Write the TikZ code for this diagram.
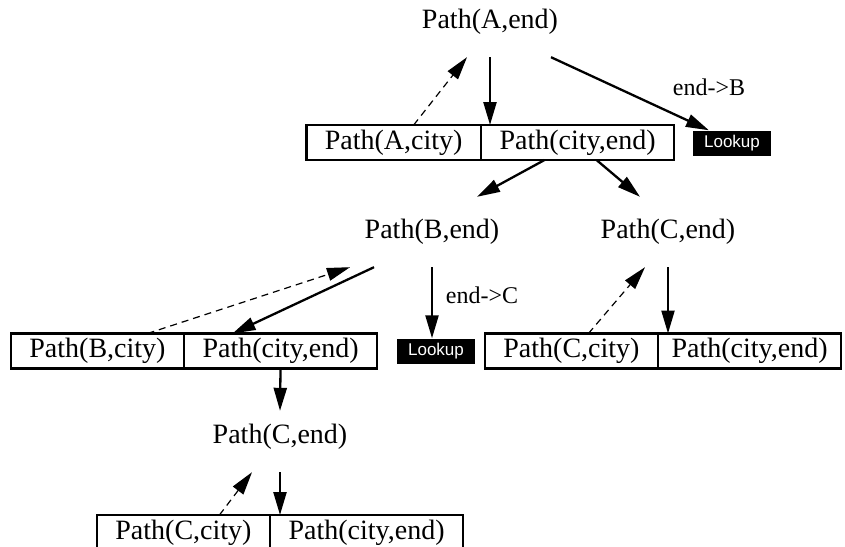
\documentclass[tikz,border=0pt]{standalone}
\usepackage{fontspec}
\setmainfont{Liberation Serif}
\newfontfamily\lookupfont{Liberation Sans}
\usetikzlibrary{arrows.meta}

\begin{document}
\begin{tikzpicture}[x=1pt,y=-1pt,
  goal/.style={inner sep=0pt,minimum height=70pt,font=\fontsize{28}{30}\selectfont},
  cell/.style={draw,line width=2.3pt,inner xsep=18.5pt,inner ysep=0pt,minimum height=35pt,outer sep=0pt,font=\fontsize{28}{30}\selectfont},
  lookup/.style={fill=black,text=white,inner xsep=11pt,inner ysep=0pt,minimum height=25pt,font=\lookupfont\fontsize{17}{18}\selectfont},
  edgelabel/.style={font=\fontsize{24}{26}\selectfont},
  call/.style={line width=2.3pt,-{Triangle[length=23pt,width=13pt]}},
  back/.style={line width=1.2pt,dash pattern=on 7pt off 5pt,-{Triangle[length=23pt,width=13pt]}}]
			\useasboundingbox (0,0) rectangle (845,546);
			\clip (0,0) rectangle (845,546);
			% top goal and its split
			\node[goal] (Aend) at (490,22) {Path(A,end)};
			\node[cell,anchor=east] (Acity) at (481,142.5) {Path(A,city)};
			\node[cell,anchor=west] (Acityend) at (Acity.east) {Path(city,end)};
			\node[lookup] (look1) at (732,143) {Lookup};
			\node[edgelabel] (toB) at (709,87) {end->B};
			% second level
			\node[goal] (Bend) at (432,232) {Path(B,end)};
			\node[goal] (Cend) at (668,232) {Path(C,end)};
			\node[cell,anchor=east] (Bcity) at (184,351) {Path(B,city)};
			\node[cell,anchor=west] (Bcityend) at (Bcity.east) {Path(city,end)};
			\node[lookup] (look2) at (436,351) {Lookup};
			\node[edgelabel] (toC) at (482,295) {end->C};
			\node[cell,anchor=east] (Ccity) at (658,351) {Path(C,city)};
			\node[cell,anchor=west,inner xsep=13.5pt] (Ccityend) at (Ccity.east) {Path(city,end)};
			% third level
			\node[goal] (Cend2) at (280,437) {Path(C,end)};
			\node[cell,anchor=east] (Ccity2) at (270,532.5) {Path(C,city)};
			\node[cell,anchor=west] (Ccityend2) at (Ccity2.east) {Path(city,end)};
			% arrows
			\draw[back] ([xshift=20pt]Acity.north) -- ([xshift=-23pt]Aend.south);
			\draw[call] (Aend.south) -- ([xshift=9pt]Acity.north east);
			\draw[call] ([xshift=61pt]Aend.south) -- ([xshift=16pt]look1.north west);
			\draw[call] ([xshift=-33pt]Acityend.south) -- ([xshift=45pt]Bend.north);
			\draw[call] ([xshift=19pt]Acityend.south) -- ([xshift=-28pt]Cend.north);
			\draw[back] ([xshift=50pt]Bcity.north) -- ([xshift=-82pt]Bend.south);
			\draw[call] ([xshift=-58pt]Bend.south) -- ([xshift=-48pt]Bcityend.north);
			\draw[call] (Bend.south) -- (Bend.south |- look2.north);
			\draw[back] ([xshift=17pt]Ccity.north) -- ([xshift=-23pt]Cend.south);
			\draw[call] (Cend.south) -- (Cend.south |- Ccityend.north);
			\draw[call] (Bcityend.south) -- ([yshift=-9pt]Cend2.north);
			\draw[back] ([xshift=36pt]Ccity2.north) -- ([xshift=-28pt]Cend2.south);
			\draw[call] (Cend2.south) -- (Cend2.south |- Ccityend2.north);
		\end{tikzpicture}
\end{document}
